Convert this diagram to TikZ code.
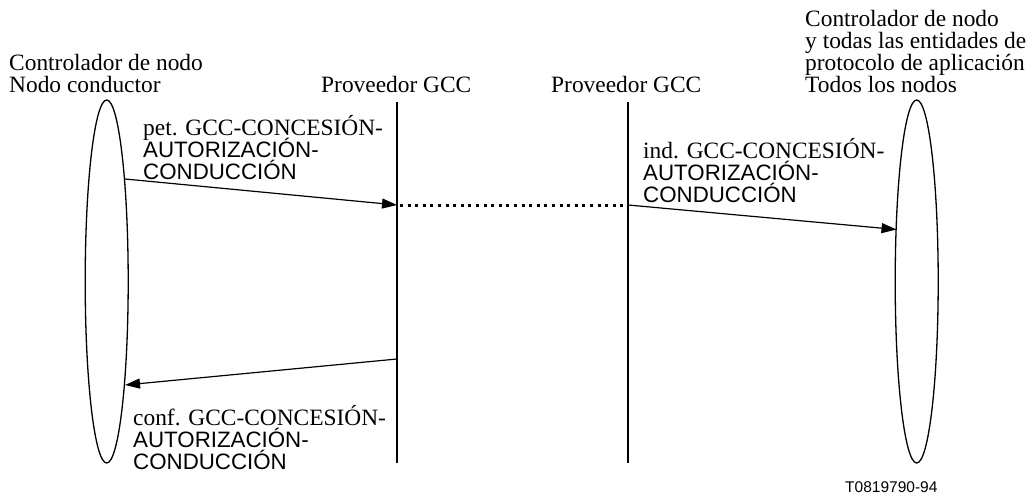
\documentclass[tikz,border=0pt]{standalone}
\usepackage{fontspec}
\setmainfont{Liberation Serif}
\setsansfont{Liberation Sans}
\usetikzlibrary{arrows.meta,shapes.geometric}
\newcommand*\msgsf{\fontsize{22.3}{21.9}\sffamily\selectfont}
\newcommand*\tightlines{\lineskiplimit=-100pt\relax\lineskip=0pt\relax}
\begin{document}
\begin{tikzpicture}[x=1pt,y=-1pt,
  txt/.style={anchor=base west,inner sep=0pt,align=left,font=\fontsize{23.4}{21.9}\selectfont\tightlines},
  lens/.style={ellipse,draw,line width=1.3pt,minimum width=43pt,minimum height=363pt,inner sep=0pt},
  life/.style={line width=2pt},
  dotline/.style={line width=3pt,dash pattern=on 3pt off 4.6pt},
  msgarrow/.style={line width=1.2pt,-{Triangle[length=15pt,width=10pt]}},
  code/.style={anchor=base west,inner sep=0pt,font=\fontsize{15.5}{18}\sffamily\selectfont},
]
\useasboundingbox (0,0) rectangle (1032,497);
% headings (anchor = baseline of last line)
\node[txt] (hl) at (9,92.7) {Controlador de nodo\\Nodo conductor};
\node[txt] (p1) at (321,92.7) {Proveedor GCC};
\node[txt] (p2) at (551,92.7) {Proveedor GCC};
\node[txt] (hr) at (805,92.7) {Controlador de nodo\\y todas las entidades de\\protocolo de aplicación\\Todos los nodos};
% entities
\node[lens] (L) at (106.7,281.5) {};
\node[lens] (R) at (916.7,281.5) {};
\coordinate (g1top) at (397,102);
\coordinate (g1bot) at (397,463);
\coordinate (g2top) at (628,102);
\coordinate (g2bot) at (628,463);
\draw[life] (g1top) -- (g1bot);
\draw[life] (g2top) -- (g2bot);
% message points
\coordinate (a1s) at (125,179);
\coordinate (a1e) at (397,205);
\coordinate (a2s) at (628,205);
\coordinate (a2e) at (896.5,229.5);
\coordinate (a3s) at (397,359);
\coordinate (a3e) at (125,385);
\coordinate (d1) at (400,205);
\coordinate (d2) at (626,205);
\draw[msgarrow] (a1s) -- (a1e);
\draw[dotline] (d1) -- (d2);
\draw[msgarrow] (a2s) -- (a2e);
\draw[msgarrow] (a3s) -- (a3e);
% labels
\node[txt] (m1) at (143,179) {pet. GCC-CONCESIÓN-\\\msgsf AUTORIZACIÓN-\\\msgsf CONDUCCIÓN};
\node[txt] (m2) at (643,202.5) {ind. GCC-CONCESIÓN-\\\msgsf AUTORIZACIÓN-\\\msgsf CONDUCCIÓN};
\node[txt] (m3) at (133,469) {conf. GCC-CONCESIÓN-\\\msgsf AUTORIZACIÓN-\\\msgsf CONDUCCIÓN};
\node[code] (id) at (845,492.7) {T0819790-94};
\end{tikzpicture}
\end{document}
